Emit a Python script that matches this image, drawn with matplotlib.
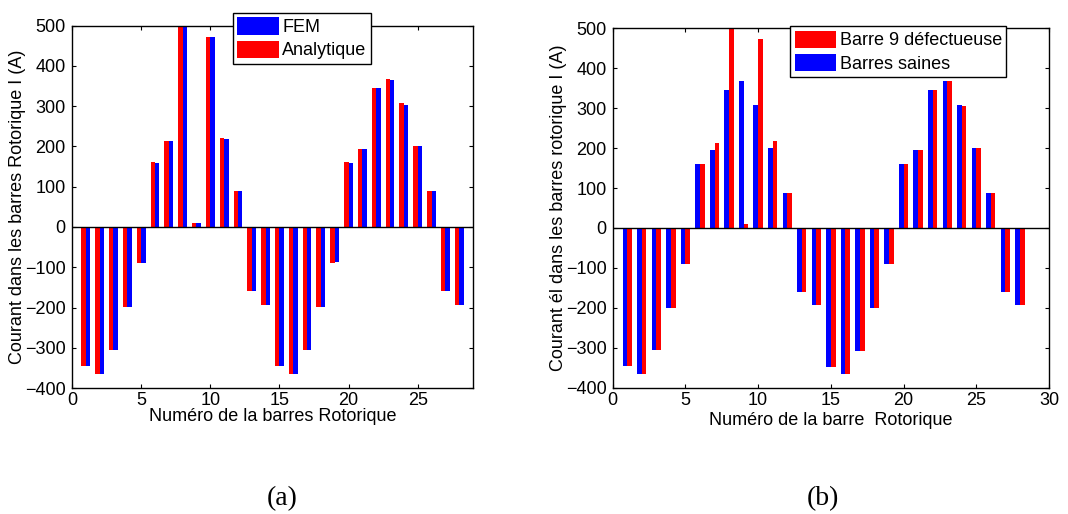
import numpy as np
import matplotlib
matplotlib.use('Agg')
import matplotlib.pyplot as plt

plt.rcParams['font.family'] = ['Liberation Sans', 'DejaVu Sans']

bars = np.arange(1, 29)

# (a) FEM vs analytique (barre 9 defectueuse)
fem = [-346, -366, -305, -199, -89, 159, 213, 500, 11, 472, 218, 89, -160, -194,
       -346, -366, -305, -199, -87, 159, 193, 346, 366, 304, 201, 89, -160, -194]
analytique = [-346, -366, -305, -199, -90, 162, 213, 500, 11, 472, 220, 89, -160, -194,
              -346, -366, -305, -199, -90, 162, 193, 346, 368, 307, 201, 89, -160, -194]

# (b) barre 9 defectueuse vs barres saines
defect = [-346, -366, -305, -200, -90, 160, 213, 500, 10, 473, 218, 88, -161, -194,
          -347, -366, -307, -201, -90, 159, 194, 346, 367, 305, 199, 88, -161, -194]
saines = [-346, -366, -305, -200, -90, 160, 194, 346, 367, 308, 199, 88, -161, -194,
          -347, -366, -307, -201, -90, 159, 194, 346, 367, 308, 199, 88, -161, -194]

yticks = [-400, -300, -200, -100, 0, 100, 200, 300, 400, 500]

fig = plt.figure(figsize=(10.68, 5.14), dpi=100)

w = 0.32
fs = 13

def style(ax, xmax):
    ax.set_xlim(0, xmax)
    ax.set_ylim(-400, 500)
    ax.set_yticks(yticks)
    ax.set_xticks(range(0, xmax + 1, 5))
    ax.axhline(0, color='black', lw=1)
    ax.tick_params(direction='in', top=True, right=True, labelsize=fs, length=3)
    ax.tick_params(axis='x', pad=3)
    ax.tick_params(axis='y', pad=4.5)
    for s in ax.spines.values():
        s.set_linewidth(1)

leg_kw = dict(fontsize=fs, fancybox=False, edgecolor='black', framealpha=1,
              handlelength=2.3, handleheight=1.1, borderpad=0.25, labelspacing=0.25,
              handletextpad=0.2, borderaxespad=0)

# (a)
ax1 = fig.add_axes([0.0674, 0.2451, 0.3755, 0.7049])
ax1.bar(bars + w/2, fem, width=w, color='#0000ff', label='FEM')
ax1.bar(bars - w/2, analytique, width=w, color='#ff0000', label='Analytique')
style(ax1, 29)
ax1.set_xticks(range(0, 26, 5))
ax1.set_xlabel('Numéro de la barres Rotorique', fontsize=fs, labelpad=-1)
ax1.set_ylabel('Courant dans les barres Rotorique I (A)', fontsize=fs, labelpad=-0.5)
ax1.legend(loc='upper left', bbox_to_anchor=(0.2179, 0.9753),
           bbox_transform=fig.transFigure, **leg_kw)

# (b)
ax2 = fig.add_axes([0.5737, 0.2457, 0.4085, 0.6993])
ax2.bar(bars + w/2, defect, width=w, color='#ff0000', label='Barre 9 défectueuse')
ax2.bar(bars - w/2, saines, width=w, color='#0000ff', label='Barres saines')
style(ax2, 30)
ax2.set_xlabel('Numéro de la barre  Rotorique', fontsize=fs, labelpad=2)
ax2.set_ylabel('Courant él dans les barres rotorique I (A)', fontsize=fs, labelpad=-1)
ax2.legend(loc='upper left', bbox_to_anchor=(0.7397, 0.9494),
           bbox_transform=fig.transFigure, **leg_kw)

fig.text(282.5 / 1068, 1 - 499 / 514, '(a)', fontsize=20, family='Liberation Serif',
         ha='center', va='center')
fig.text(822.5 / 1068, 1 - 499 / 514, '(b)', fontsize=20, family='Liberation Serif',
         ha='center', va='center')

fig.savefig('out.png', dpi=100)
